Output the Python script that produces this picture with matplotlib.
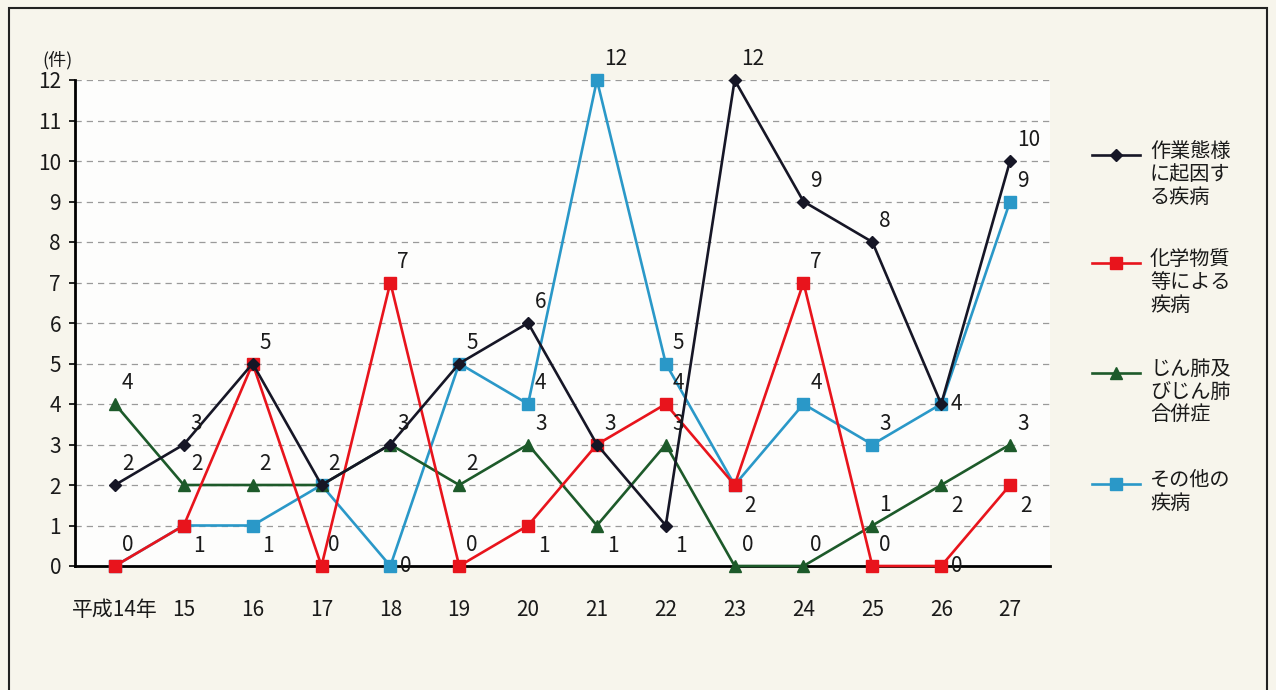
import matplotlib
matplotlib.use("Agg")
import matplotlib.pyplot as plt
from matplotlib.lines import Line2D
from matplotlib.patches import Rectangle
import logging
logging.getLogger('matplotlib.font_manager').setLevel(logging.ERROR)

plt.rcParams['font.family'] = ['Noto Sans CJK JP', 'DejaVu Sans']
CJK = ['Noto Sans CJK JP', 'DejaVu Sans']

categories = ["平成14年", "15", "16", "17", "18", "19", "20", "21", "22", "23", "24", "25", "26", "27"]
series_names = ["作業態様\nに起因す\nる疾病", "化学物質\n等による\n疾病", "じん肺及\nびじん肺\n合併症", "その他の\n疾病"]
work = [2, 3, 5, 2, 3, 5, 6, 3, 1, 12, 9, 8, 4, 10]
chem = [0, 1, 5, 0, 7, 0, 1, 3, 4, 2, 7, 0, 0, 2]
pneu = [4, 2, 2, 2, 3, 2, 3, 1, 3, 0, 0, 1, 2, 3]
other = [0, 1, 1, 2, 0, 5, 4, 12, 5, 2, 4, 3, 4, 9]

# label placement: a = above-right, b = below-right, r = right, n = none
lab_work = "aaaaaaaabaaara"
lab_chem = "abnaaabnabaarb"
lab_pneu = "aaannaabaaaaba"
lab_other = "nnbnrnaaanaana"

colors = ["#161626", "#e8141c", "#1d5a2a", "#2a98c8"]
markers = ["D", "s", "^", "s"]
msizes = [6.5, 8, 8, 8]

W, H = 1276, 690
fig = plt.figure(figsize=(W / 100, H / 100), dpi=100, facecolor="#f7f5ec")
ax = fig.add_axes([75 / W, 1 - 566 / H, (1050 - 75) / W, (566 - 80) / H])
ax.set_facecolor("#fdfdfc")

x = list(range(len(categories)))
data = [work, chem, pneu, other]
labs = [lab_work, lab_chem, lab_pneu, lab_other]
zorders = [6, 5, 4, 3]

for vals, lab, c, m, ms, z in zip(data, labs, colors, markers, msizes, zorders):
    ax.plot(x, vals, color=c, lw=1.9, marker=m, ms=ms, mec=c, mfc=c, zorder=z, clip_on=False)
    for xi, v, code in zip(x, vals, lab):
        if code == "n":
            continue
        if code == "a":
            off, va = (5, 7), "bottom"
        elif code == "b":
            off, va = (7, -7), "top"
        else:
            off, va = (7, 0), "center"
        ax.annotate(str(v), (xi, v), xytext=off, textcoords="offset points",
                    ha="left", va=va, fontsize=15, color="#1a1a1a", zorder=10)

ax.set_xlim(-0.58, 13.58)
ax.set_ylim(0, 12)
ax.set_yticks(range(0, 13))
ax.set_xticks(x)
ax.set_xticklabels(categories)
ax.tick_params(axis="x", length=0, pad=24, labelsize=15)
ax.tick_params(axis="y", length=4, width=1.2, direction="out", pad=6, labelsize=15)
for t in ax.get_xticklabels() + ax.get_yticklabels():
    t.set_color("#1a1a1a")

ax.grid(axis="y", linestyle=(0, (5, 4)), color="#9a9a9a", lw=0.9)
ax.set_axisbelow(True)
for s in ["top", "right"]:
    ax.spines[s].set_visible(False)
ax.spines["left"].set_linewidth(2)
ax.spines["bottom"].set_linewidth(2)

fig.text(42 / W, 1 - 60 / H, "(件)", fontsize=13, va="center", ha="left", color="#1a1a1a",
         family=CJK)

# legend
leg_y = [155, 263, 373, 484]
for name, c, m, ms, ly in zip(series_names, colors, markers, msizes, leg_y):
    fig.add_artist(Line2D([1092 / W, 1140 / W], [1 - ly / H, 1 - ly / H], color=c, lw=1.9,
                          transform=fig.transFigure))
    fig.add_artist(Line2D([1116 / W], [1 - ly / H], color=c, lw=0,
                          marker=m, ms=ms, mfc=c, mec=c, transform=fig.transFigure))
    fig.text(1150 / W, 1 - (ly - 14) / H, name, fontsize=14.5, va="top", ha="left",
             linespacing=1.12, color="#1a1a1a", family=CJK)

fig.add_artist(Rectangle((9 / W, -0.01), (1267 - 9) / W, 1 - 8 / H + 0.01,
                         transform=fig.transFigure, fill=False, ec="#222222", lw=1.5))

fig.savefig("out.png", dpi=100, facecolor=fig.get_facecolor())
